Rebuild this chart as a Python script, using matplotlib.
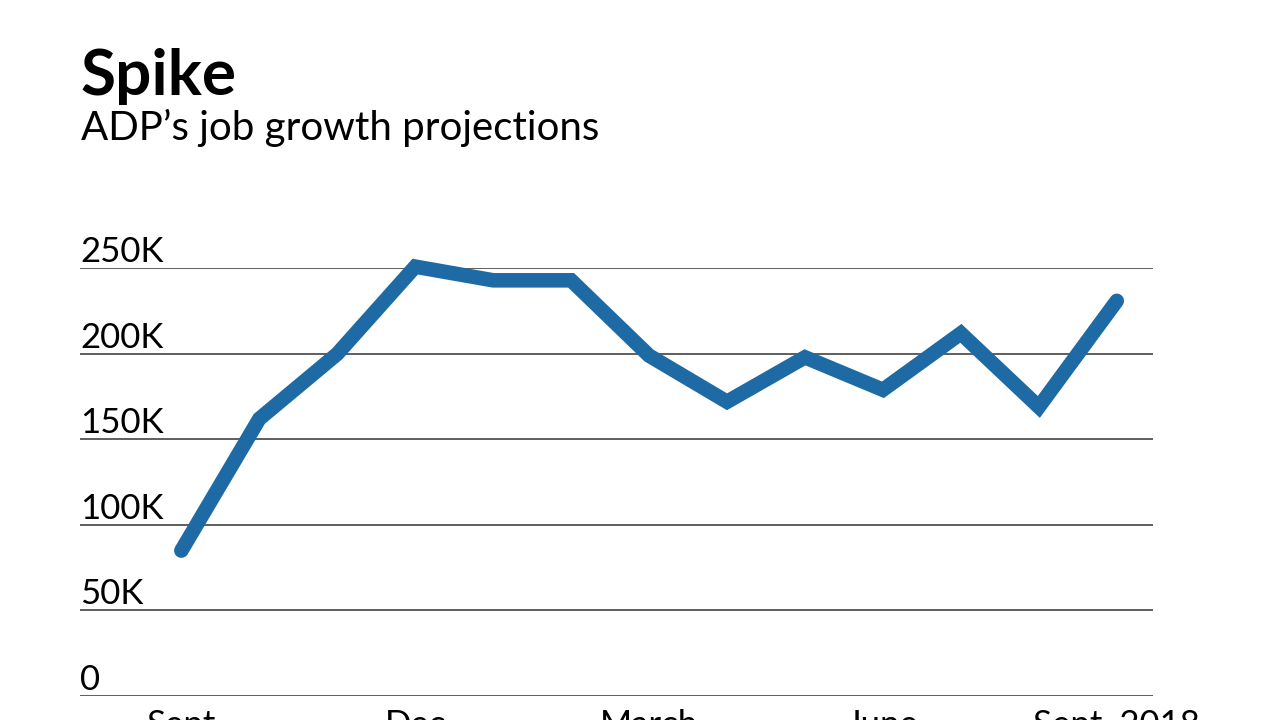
import matplotlib.pyplot as plt
from matplotlib.transforms import offset_copy

# ADP job growth, Sept 2017 - Sept 2018 (thousands)
months = ["Sept", "Oct", "Nov", "Dec", "Jan", "Feb", "March",
          "April", "May", "June", "July", "Aug", "Sept. 2018"]
jobs_k = [85, 162, 200, 251, 243, 243, 199, 172, 198, 179, 212, 169, 231]

shown_months = ["Sept", "Dec", "March", "June", "Sept. 2018"]
y_ticks = [0, 50, 100, 150, 200, 250]
y_labels = ["0", "50K", "100K", "150K", "200K", "250K"]

plt.rcParams["font.family"] = ["Lato", "DejaVu Sans"]

fig = plt.figure(figsize=(12.8, 7.2), dpi=100)
fig.patch.set_facecolor("white")

# title block
fig.text(0.063, 0.868, "Spike", fontsize=46, fontweight="bold", color="black")
fig.text(0.063, 0.806, "ADP\u2019s job growth projections", fontsize=29, color="black")

ax = fig.add_axes([0.0625, 0.0333, 0.838, 0.594])
x = list(range(len(months)))
ax.plot(x, jobs_k, color="#1d6aa5", linewidth=10.5, solid_capstyle="round",
        solid_joinstyle="miter", clip_on=False, zorder=3)

ax.set_xlim(-1.3, len(months) - 1 + 0.46)
ax.set_ylim(0, 250)

# gridlines + labels sitting above them
label_tr = offset_copy(ax.get_yaxis_transform(), fig=fig, x=0, y=6, units="dots")
for v, lab in zip(y_ticks, y_labels):
    ax.axhline(v, color="#333333", linewidth=1.1, zorder=1)
    ax.text(0.0, v, lab, transform=label_tr, fontsize=25, color="black",
            ha="left", va="baseline")

ax.set_yticks([])
ax.set_xticks([months.index(m) for m in shown_months])
ax.set_xticklabels(shown_months, fontsize=25)
ax.tick_params(axis="x", length=0, pad=9)
for s in ax.spines.values():
    s.set_visible(False)
ax.set_facecolor("none")

fig.savefig("out.png", dpi=100)
